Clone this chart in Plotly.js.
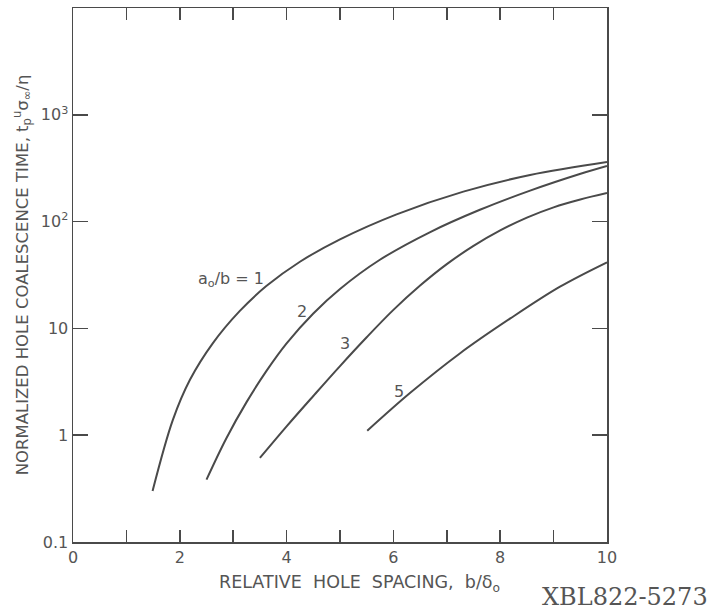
<!DOCTYPE html>
<html>
<head>
<meta charset="utf-8">
<script src="https://cdn.plot.ly/plotly-3.0.1.min.js"></script>
<style>html,body{margin:0;padding:0;background:#fff;}</style>
</head>
<body>
<div id="chart" style="width:718px;height:614px;"></div>
<script>
// Curve a0/b = 1
const x1 = [1.49, 1.87, 2.19, 2.62, 3.12, 3.62, 4.25, 5.0, 6.06, 7.31, 8.56, 10.0];
const y1 = [0.30, 1.39, 3.30, 7.28, 14.5, 24.9, 42.1, 68.2, 117, 191, 273, 361];
// Curve a0/b = 2
const x2 = [2.50, 2.87, 3.25, 3.62, 4.0, 4.5, 5.0, 5.74, 6.68, 7.62, 8.56, 9.49, 10.0];
const y2 = [0.384, 0.933, 2.04, 3.98, 7.24, 13.8, 23.4, 43.7, 79.4, 129, 195, 279, 332];
// Curve a0/b = 3
const x3 = [3.5, 4.0, 4.5, 5.0, 5.5, 6.0, 6.5, 7.0, 7.5, 8.0, 8.5, 9.0, 9.5, 10.0];
const y3 = [0.612, 1.21, 2.33, 4.44, 8.26, 14.9, 25.2, 40.0, 59.2, 82.6, 109, 136, 161, 185];
// Curve a0/b = 5
const x5 = [5.51, 6.31, 7.25, 8.19, 9.12, 10.0];
const y5 = [1.10, 2.48, 5.86, 12.4, 24.6, 41.6];

const yTickVals = [0.1, 1, 10, 100, 1000];
const yTickText = ['0.1', '1', '10', '10<sup>2</sup>', '10<sup>3</sup>'];

const curveLabels = ['a<sub>o</sub>/b = 1', '2', '3', '5'];
const labelX = [2.96, 4.28, 5.09, 6.11];
const labelY = [28.4, 14.4, 7.3, 2.56];

const ink = '#4a4a4a';
const FONT = 'DejaVu Sans, Liberation Sans, sans-serif';
const NB = '\u00a0\u00a0';

const mk = (x, y) => ({
  x: x, y: y, type: 'scatter', mode: 'lines',
  line: {color: ink, width: 2, shape: 'spline', smoothing: 1},
  hoverinfo: 'skip', showlegend: false
});

const data = [mk(x1, y1), mk(x2, y2), mk(x3, y3), mk(x5, y5)];

const annotations = curveLabels.map((t, i) => ({
  x: labelX[i], y: Math.log10(labelY[i]), xref: 'x', yref: 'y',
  text: t, showarrow: false, font: {family: FONT, size: 16, color: '#555'}
}));
annotations.push({
  x: 0.536, y: -0.077, xref: 'paper', yref: 'paper', xanchor: 'center', yanchor: 'middle',
  text: 'RELATIVE' + NB + 'HOLE' + NB + 'SPACING,' + NB + 'b/δ<sub>o</sub>', showarrow: false,
  font: {family: FONT, size: 17.5, color: '#555'}
});
annotations.push({
  x: 1.193, y: -0.103, xref: 'paper', yref: 'paper', xanchor: 'right', yanchor: 'middle',
  text: 'XBL822-5273', showarrow: false,
  font: {family: 'DejaVu Serif, Liberation Serif, serif', size: 24, color: '#555'}
});

const layout = {
  width: 718, height: 614,
  margin: {l: 73, r: 111, t: 8, b: 72},
  paper_bgcolor: '#ffffff', plot_bgcolor: '#ffffff',
  font: {family: FONT, color: '#555'},
  xaxis: {
    range: [0, 10], tickmode: 'linear', tick0: 0, dtick: 2,
    ticks: 'inside', ticklen: 12, tickwidth: 1.5, tickcolor: ink,
    minor: {dtick: 1, tick0: 0, ticks: 'inside', ticklen: 12, tickwidth: 1.5, tickcolor: ink},
    showline: true, linecolor: ink, linewidth: 1.5, mirror: 'ticks',
    showgrid: false, zeroline: false,
    tickfont: {family: FONT, size: 16, color: '#555'}
  },
  yaxis: {
    type: 'log', range: [-1, 4], tickmode: 'array', tickvals: yTickVals, ticktext: yTickText,
    ticks: 'inside', ticklen: 15, tickwidth: 1.5, tickcolor: ink,
    showline: true, linecolor: ink, linewidth: 1.5, mirror: 'ticks',
    showgrid: false, zeroline: false,
    tickfont: {family: FONT, size: 16, color: '#555'},
    title: {
      text: 'NORMALIZED HOLE COALESCENCE TIME, t<sub>p</sub><sup>u</sup>σ<sub>∞</sub>/η',
      font: {family: FONT, size: 16.5, color: '#555'}, standoff: 8
    }
  },
  annotations: annotations
};

Plotly.newPlot('chart', data, layout, {displayModeBar: false, staticPlot: true});
</script>
</body>
</html>
